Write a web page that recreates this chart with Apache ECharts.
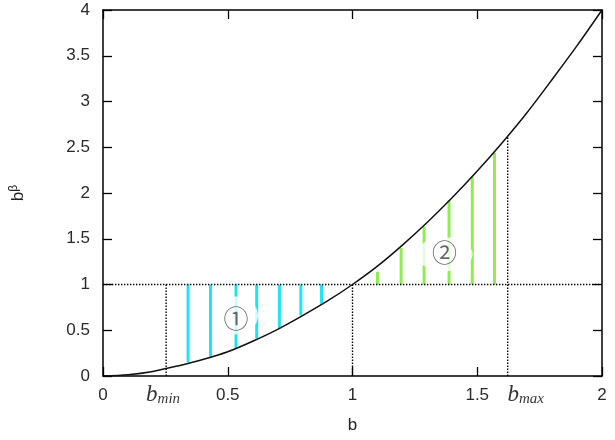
<!DOCTYPE html>
<html>
<head>
<meta charset="utf-8">
<script src="https://cdn.jsdelivr.net/npm/echarts@6/dist/echarts.min.js"></script>
<style>
  html, body { margin: 0; padding: 0; background: #fff; }
  #main { width: 615px; height: 440px; }
</style>
</head>
<body>
<div id="main"></div>
<script>
// curve b^beta
var curveB = [0, 0.1, 0.2, 0.3, 0.4, 0.5, 0.6, 0.7, 0.8, 0.9, 1.0, 1.1, 1.2, 1.3, 1.4, 1.5, 1.6, 1.7, 1.8, 1.9, 2.0];
var curveY = [0, 0.014, 0.05, 0.11, 0.18, 0.265, 0.38, 0.51, 0.66, 0.82, 1.0, 1.2, 1.43, 1.68, 1.95, 2.24, 2.55, 2.88, 3.24, 3.61, 4.0];

// hatching under y=1 (region 1) and above y=1 (region 2)
var cyanX = [0.341, 0.431, 0.533, 0.616, 0.707, 0.793, 0.876];
var cyanLow = [0.15, 0.21, 0.31, 0.41, 0.52, 0.66, 0.79];
var greenX = [1.10, 1.195, 1.287, 1.387, 1.48, 1.569];
var greenHigh = [1.14, 1.40, 1.63, 1.92, 2.18, 2.44];

var bMin = 0.253, bMax = 1.622, bMaxTop = 2.62;

var regionNames = ['①', '②'];
var regionX = [0.533, 1.369];
var regionY = [0.66, 1.33];

var myChart = echarts.init(document.getElementById('main'));

var axisFont = { color: '#2a2a2a', fontSize: 17, fontFamily: 'Liberation Sans' };
var dots = { color: '#000', width: 1.4, type: [1.4, 1.6] };
var frame = { show: true, onZero: false, lineStyle: { color: '#000', width: 1.5 } };
var ticks = { show: true, inside: true, length: 9, lineStyle: { color: '#000', width: 1.3 } };

var series = [];

cyanX.forEach(function (x, i) {
    series.push({
        type: 'line', symbol: 'none', silent: true, z: 2,
        lineStyle: { color: '#1fe3f0', width: 3 },
        data: [[x, cyanLow[i]], [x, 1]]
    });
});
greenX.forEach(function (x, i) {
    series.push({
        type: 'line', symbol: 'none', silent: true, z: 2,
        lineStyle: { color: '#90ec52', width: 3 },
        data: [[x, 1], [x, greenHigh[i]]]
    });
});

// white patches behind the circled numbers
series.push({
    type: 'scatter', silent: true, z: 3,
    itemStyle: { color: '#fff' },
    data: [
        { value: [regionX[0], regionY[0]], symbolSize: [44, 38], label: { offset: [0, 3] } },
        { value: [regionX[1], regionY[1]], symbolSize: [56, 34], label: { offset: [0, -2] } }
    ],
    label: {
        show: true, position: 'inside', color: '#444', fontSize: 25,
        fontFamily: 'Noto Sans CJK SC',
        formatter: function (p) { return regionNames[p.dataIndex]; }
    }
});

// dotted guides
[
    [[0, 1], [2, 1]],
    [[bMin, 0], [bMin, 1]],
    [[1, 0], [1, 1]],
    [[bMax, 0], [bMax, bMaxTop]]
].forEach(function (seg) {
    series.push({
        type: 'line', symbol: 'none', silent: true, z: 4,
        lineStyle: dots, data: seg
    });
});

series.push({
    type: 'line', symbol: 'none', smooth: 0.3, silent: true, z: 5,
    lineStyle: { color: '#111', width: 1.5 },
    data: curveB.map(function (b, i) { return [b, curveY[i]]; })
});

// b_min / b_max under the axis
var subRich = {
    b: { fontFamily: 'Liberation Serif', fontStyle: 'italic', fontSize: 23, color: '#000' },
    s: { fontFamily: 'Liberation Serif', fontStyle: 'italic', fontSize: 15, color: '#000', padding: [9, 0, 0, 0] }
};
series.push({
    type: 'scatter', silent: true, z: 6, symbolSize: 1,
    itemStyle: { color: 'rgba(0,0,0,0)' },
    data: [
        { value: [bMin, 0], label: { formatter: '{b|b}{s|min}', offset: [-3, 0] } },
        { value: [bMax, 0], label: { formatter: '{b|b}{s|max}', offset: [18, 0] } }
    ],
    label: { show: true, position: 'bottom', distance: 6, rich: subRich }
});

option = {
    animation: false,
    grid: { left: 100, right: 13, top: 10, bottom: 64 },
    xAxis: [
        {
            type: 'value', min: 0, max: 2, interval: 0.5,
            name: 'b', nameLocation: 'middle', nameGap: 41,
            nameTextStyle: { color: '#222', fontSize: 17, fontFamily: 'Liberation Sans' },
            axisLine: frame, axisTick: ticks,
            axisLabel: Object.assign({ margin: 11 }, axisFont),
            splitLine: { show: false }
        },
        {
            type: 'value', min: 0, max: 2, interval: 0.5, position: 'top',
            axisLine: frame, axisTick: ticks,
            axisLabel: { show: false },
            splitLine: { show: false }
        }
    ],
    yAxis: [
        {
            type: 'value', min: 0, max: 4, interval: 0.5,
            name: '{b|b}{s|β}', nameLocation: 'middle', nameGap: 74, nameRotate: 90,
            nameTextStyle: {
                rich: {
                    b: { color: '#222', fontSize: 17, fontFamily: 'Liberation Sans' },
                    s: { color: '#222', fontSize: 12, fontFamily: 'Liberation Sans', padding: [0, 0, 9, 0] }
                }
            },
            axisLine: frame, axisTick: ticks,
            axisLabel: Object.assign({ margin: 13 }, axisFont),
            splitLine: { show: false }
        },
        {
            type: 'value', min: 0, max: 4, interval: 0.5, position: 'right',
            axisLine: frame, axisTick: ticks,
            axisLabel: { show: false },
            splitLine: { show: false }
        }
    ],
    series: series
};
myChart.setOption(option);
</script>
</body>
</html>
